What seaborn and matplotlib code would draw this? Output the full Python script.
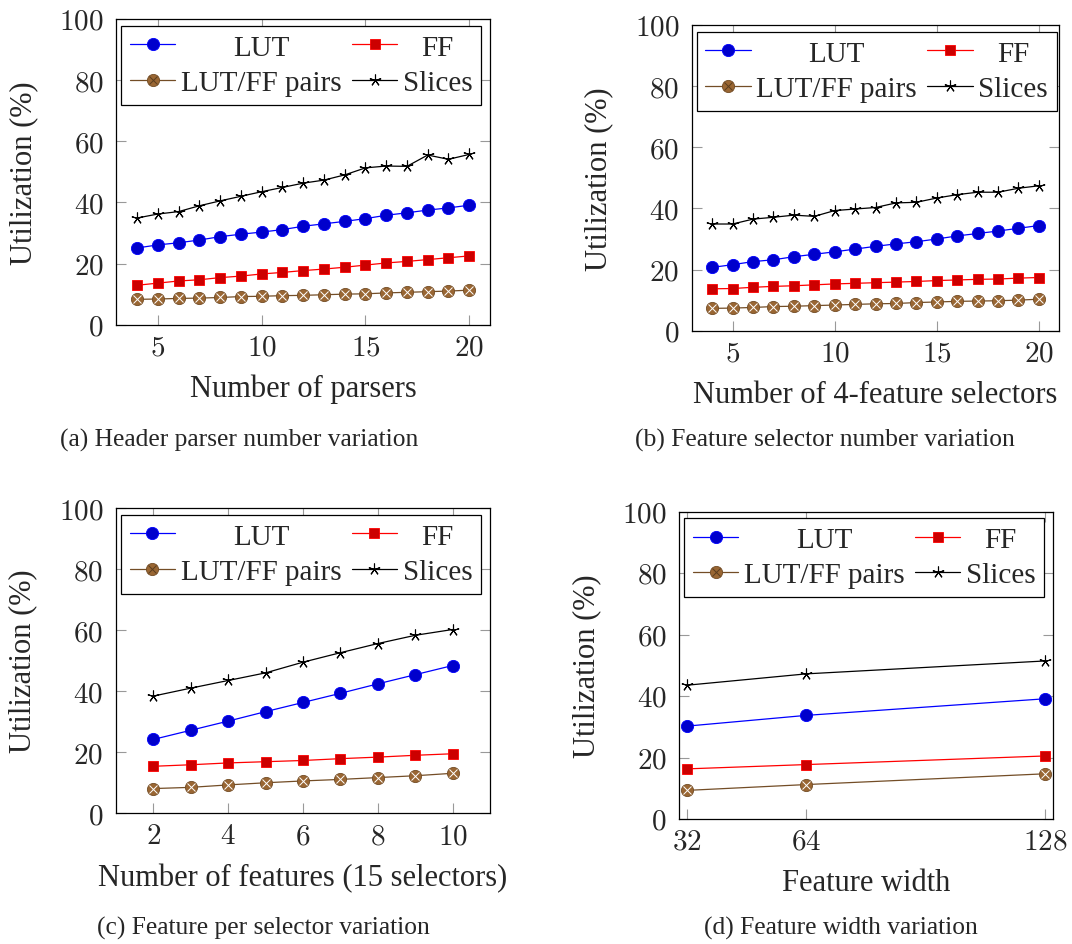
import matplotlib
matplotlib.use("Agg")
import matplotlib.pyplot as plt
import seaborn as sns
import pandas as pd
from matplotlib.lines import Line2D
from matplotlib.ticker import FuncFormatter
from matplotlib.legend_handler import HandlerTuple

# ---------------- data ----------------
# (a) Header parser number variation
parsers = [4, 5, 6, 7, 8, 9, 10, 11, 12, 13, 14, 15, 16, 17, 18, 19, 20]
a_lut = [25.1, 26.1, 26.8, 27.7, 28.8, 29.6, 30.3, 31.1, 32.2, 33.0, 33.8, 34.7, 35.8, 36.6, 37.5, 38.2, 39.1]
a_ff = [12.9, 13.6, 14.3, 14.7, 15.4, 15.9, 16.6, 17.1, 17.7, 18.2, 18.8, 19.5, 20.2, 20.7, 21.3, 21.9, 22.5]
a_pairs = [8.3, 8.4, 8.6, 8.7, 8.9, 9.2, 9.3, 9.5, 9.6, 9.8, 10.0, 10.1, 10.4, 10.6, 10.8, 11.0, 11.3]
a_slices = [34.9, 36.2, 37.0, 38.9, 40.5, 42.0, 43.5, 44.9, 46.3, 47.3, 49.0, 51.3, 51.9, 51.8, 55.5, 54.1, 55.7]

# (b) Feature selector number variation
selectors = [4, 5, 6, 7, 8, 9, 10, 11, 12, 13, 14, 15, 16, 17, 18, 19, 20]
b_lut = [20.7, 21.6, 22.6, 23.2, 24.2, 25.0, 25.8, 26.7, 27.6, 28.4, 29.1, 30.0, 31.0, 31.8, 32.6, 33.5, 34.4]
b_ff = [13.7, 13.8, 14.2, 14.5, 14.7, 15.0, 15.3, 15.5, 15.7, 15.9, 16.1, 16.4, 16.6, 16.8, 16.9, 17.2, 17.4]
b_pairs = [7.3, 7.4, 7.6, 7.9, 8.0, 8.2, 8.4, 8.6, 8.8, 8.9, 9.2, 9.4, 9.6, 9.7, 9.8, 10.0, 10.3]
b_slices = [34.9, 34.9, 36.5, 37.1, 37.8, 37.4, 39.3, 39.8, 40.3, 41.8, 42.0, 43.4, 44.5, 45.3, 45.3, 46.6, 47.4]

# (c) Feature per selector variation
features = [2, 3, 4, 5, 6, 7, 8, 9, 10]
c_lut = [24.2, 27.2, 30.2, 33.3, 36.3, 39.3, 42.4, 45.4, 48.4]
c_ff = [15.4, 15.9, 16.5, 16.9, 17.3, 17.9, 18.4, 19.0, 19.5]
c_pairs = [8.1, 8.5, 9.3, 10.0, 10.6, 11.1, 11.7, 12.3, 13.1]
c_slices = [38.4, 41.0, 43.5, 46.0, 49.5, 52.6, 55.6, 58.3, 60.2]

# (d) Feature width variation
widths = [32, 64, 128]
d_lut = [30.2, 33.7, 39.1]
d_ff = [16.3, 17.7, 20.5]
d_pairs = [9.3, 11.2, 14.7]
d_slices = [43.5, 47.2, 51.4]

series_names = ["LUT", "FF", "LUT/FF pairs", "Slices"]
y_ticks = [0, 20, 40, 60, 80, 100]

# ---------------- style ----------------
sns.set_style("ticks")
plt.rcParams["font.family"] = ["Liberation Serif", "DejaVu Serif"]
plt.rcParams["mathtext.fontset"] = "cm"

W, H = 1072, 945
fig = plt.figure(figsize=(W / 100, H / 100), dpi=100)

LW = 0.9
styles = {
    "LUT": dict(color="#0000FF", marker="o", markersize=8.8, markerfacecolor="#0000CC",
                markeredgecolor="#0000FF", markeredgewidth=0.6, linewidth=LW),
    "FF": dict(color="#FF0000", marker="s", markersize=7.8, markerfacecolor="#CC0000",
               markeredgecolor="#FF0000", markeredgewidth=0.6, linewidth=LW),
    "LUT/FF pairs": dict(color="#734D26", marker="o", markersize=8.8, markerfacecolor="#996633",
                         markeredgecolor="#734D26", markeredgewidth=0.6, linewidth=LW),
    "Slices": dict(color="black", marker=(5, 2, 0), markersize=8.5, markeredgecolor="black",
                   markeredgewidth=0.8, linewidth=LW),
}
xmark_style = dict(color="#5A3D1E", marker="x", markersize=5.5, markeredgewidth=0.7, linestyle="")

panels = [
    dict(x=parsers, ys=[a_lut, a_ff, a_pairs, a_slices], xlim=(3, 21), xticks=[5, 10, 15, 20],
         xlabel="Number of parsers", geom=(116.3, 490, 20, 325.7),
         caption="(a) Header parser number variation", cap=(239, 440)),
    dict(x=selectors, ys=[b_lut, b_ff, b_pairs, b_slices], xlim=(3, 21), xticks=[5, 10, 15, 20],
         xlabel="Number of 4-feature selectors", geom=(691.7, 1059.3, 26, 331.7),
         caption="(b) Feature selector number variation", cap=(825, 440)),
    dict(x=features, ys=[c_lut, c_ff, c_pairs, c_slices], xlim=(1, 11), xticks=[2, 4, 6, 8, 10],
         xlabel="Number of features (15 selectors)", geom=(116, 490, 509, 814.3),
         caption="(c) Feature per selector variation", cap=(263, 928)),
    dict(x=widths, ys=[d_lut, d_ff, d_pairs, d_slices], xlim=(30, 130), xticks=[32, 64, 128],
         xlabel="Feature width", geom=(679.3, 1052.7, 512.5, 820),
         caption="(d) Feature width variation", cap=(841, 928)),
]

fmt = FuncFormatter(lambda v, p: f"${v:g}$")
legends = []
for p in panels:
    l, r, t, b = p["geom"]
    ax = fig.add_axes([l / W, 1 - b / H, (r - l) / W, (b - t) / H])
    axw, axh = r - l, b - t
    for i, (name, y) in enumerate(zip(series_names, p["ys"])):
        df = pd.DataFrame({"x": p["x"], "y": y})
        sns.lineplot(data=df, x="x", y="y", ax=ax, zorder=3 + i, **styles[name])
        if name == "LUT/FF pairs":
            sns.lineplot(data=df, x="x", y="y", ax=ax, zorder=3.5 + i, **xmark_style)
    ax.set_xlim(*p["xlim"])
    ax.set_ylim(0, 100)
    ax.set_xticks(p["xticks"])
    ax.set_yticks(y_ticks)
    ax.xaxis.set_major_formatter(fmt)
    ax.yaxis.set_major_formatter(fmt)
    ax.tick_params(direction="in", length=7, width=0.8, color="#999999",
                   top=True, right=True, labelsize=21)
    ax.tick_params(axis="x", pad=7)
    ax.tick_params(axis="y", pad=9)
    for s in ax.spines.values():
        s.set_color("black")
        s.set_linewidth(0.9)
    ax.set_xlabel(p["xlabel"], fontsize=22)
    ax.set_ylabel("Utilization (%)", fontsize=22)
    ax.xaxis.label.set_verticalalignment("center")
    ax.yaxis.label.set_verticalalignment("center")
    ax.xaxis.set_label_coords(0.5, -64 / axh)
    ax.yaxis.set_label_coords(-93 / axw, 0.5)

    h_lut = Line2D([], [], **styles["LUT"])
    h_ff = Line2D([], [], **styles["FF"])
    h_pairs = (Line2D([], [], **styles["LUT/FF pairs"]), Line2D([], [], **xmark_style))
    h_sl = Line2D([], [], **styles["Slices"])
    leg = ax.legend(handles=[h_lut, h_pairs, h_ff, h_sl],
                    labels=["LUT", "LUT/FF pairs", "FF", "Slices"],
                    ncol=2, loc="upper left", bbox_to_anchor=(5 / axw, 1 - 6.5 / axh),
                    borderaxespad=0, frameon=True, fancybox=False, edgecolor="black",
                    framealpha=1, fontsize=21, handlelength=1.55, handletextpad=0.2,
                    columnspacing=0.35, labelspacing=0.3, borderpad=0.3,
                    handler_map={tuple: HandlerTuple(ndivide=1)})
    leg.get_frame().set_linewidth(0.9)
    legends.append(leg)

    fig.text(p["cap"][0] / W, 1 - p["cap"][1] / H, p["caption"], fontsize=18.4,
             ha="center", va="center")

# centre legend labels within their columns (as in the original)
fig.canvas.draw()
for leg in legends:
    texts = leg.get_texts()
    w = [tx.get_window_extent().width for tx in texts]
    texts[0].set_x((w[1] - w[0]) / 2)
    texts[2].set_x((w[3] - w[2]) / 2)

fig.savefig("out.png", dpi=100)
